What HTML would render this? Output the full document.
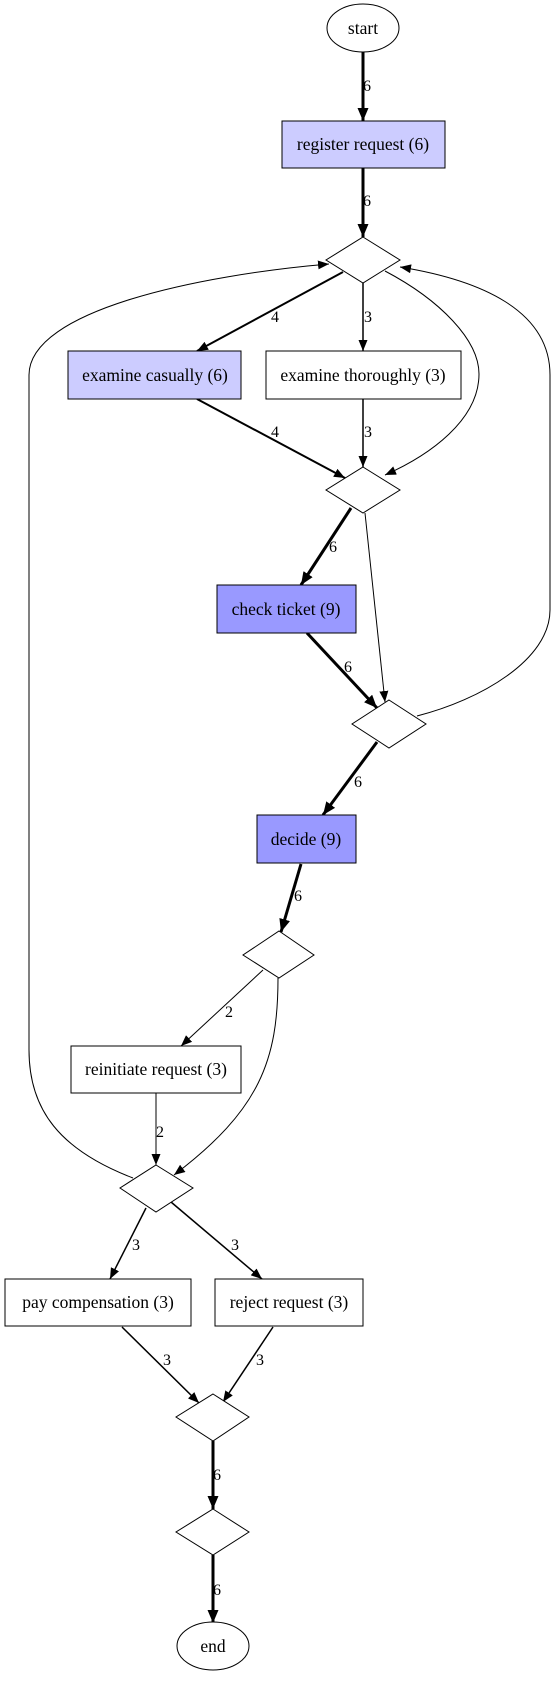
<!DOCTYPE html>
<html><head><meta charset="utf-8"><style>
html,body{margin:0;padding:0;background:#fff;}
svg{display:block;}
text{font-family:"Liberation Serif",serif;fill:#000;}
.n{font-size:17.5px;text-anchor:middle;dominant-baseline:central;}
.e{font-size:16px;}
</style></head><body>
<svg width="551" height="1683" viewBox="0 0 551 1683" xmlns="http://www.w3.org/2000/svg">
<defs>
<marker id="a" markerUnits="userSpaceOnUse" markerWidth="12" markerHeight="9" refX="11" refY="4.5" orient="auto"><path d="M0,0 L11,4.5 L0,9 z" fill="#000"/></marker>
<marker id="b" markerUnits="userSpaceOnUse" markerWidth="14" markerHeight="11" refX="13" refY="5.5" orient="auto"><path d="M0,0 L13,5.5 L0,11 z" fill="#000"/></marker>
</defs>
<g fill="none" stroke="#000">
<line x1="363" y1="52" x2="363" y2="121" stroke-width="3" marker-end="url(#b)"/>
<line x1="363" y1="168" x2="363" y2="237" stroke-width="3" marker-end="url(#b)"/>
<line x1="351" y1="508" x2="301" y2="585" stroke-width="3" marker-end="url(#b)"/>
<line x1="307" y1="633" x2="377" y2="708" stroke-width="3" marker-end="url(#b)"/>
<line x1="377" y1="742" x2="323" y2="815" stroke-width="3" marker-end="url(#b)"/>
<line x1="301" y1="864" x2="281" y2="932" stroke-width="3" marker-end="url(#b)"/>
<line x1="213" y1="1441" x2="213" y2="1509" stroke-width="3" marker-end="url(#b)"/>
<line x1="213" y1="1555" x2="213" y2="1623" stroke-width="3" marker-end="url(#b)"/>
<line x1="343" y1="272" x2="197" y2="351" stroke-width="2" marker-end="url(#a)"/>
<line x1="197" y1="399" x2="345" y2="478" stroke-width="2" marker-end="url(#a)"/>
<line x1="363" y1="283" x2="363" y2="351" stroke-width="1.5" marker-end="url(#a)"/>
<line x1="363" y1="399" x2="363" y2="467" stroke-width="1.5" marker-end="url(#a)"/>
<line x1="146" y1="1208" x2="110" y2="1279" stroke-width="1.5" marker-end="url(#a)"/>
<line x1="171" y1="1202" x2="262" y2="1279" stroke-width="1.5" marker-end="url(#a)"/>
<line x1="122" y1="1327" x2="199" y2="1403" stroke-width="1.5" marker-end="url(#a)"/>
<line x1="273" y1="1327" x2="223" y2="1402" stroke-width="1.5" marker-end="url(#a)"/>
<line x1="365" y1="513" x2="385" y2="702" stroke-width="1" marker-end="url(#a)"/>
<line x1="263" y1="970" x2="181" y2="1046" stroke-width="1" marker-end="url(#a)"/>
<line x1="156" y1="1093" x2="156" y2="1165" stroke-width="1" marker-end="url(#a)"/>
<path d="M385,271 C440,300 479,340 479,374 C479,420 430,455 385,475" stroke-width="1" marker-end="url(#a)"/>
<path d="M278,978 C278,1060 260,1110 174,1175" stroke-width="1" marker-end="url(#a)"/>
<path d="M133,1178 C60,1150 29,1110 29,1050 L29,375 C29,310 200,275 329,264" stroke-width="1" marker-end="url(#a)"/>
<path d="M417,716 C480,700 550,660 550,610 L550,375 C550,310 480,280 400,267" stroke-width="1" marker-end="url(#a)"/>
</g>
<g stroke="#000" stroke-width="1">
<ellipse cx="363" cy="28" rx="36" ry="24" fill="#fff"/>
<rect x="282" y="121" width="163" height="47" fill="#ccccff"/>
<polygon points="363,237 400,260 363,283 326,260" fill="#fff"/>
<rect x="68" y="351" width="173" height="48" fill="#ccccff"/>
<rect x="266" y="351" width="195" height="48" fill="#fff"/>
<polygon points="363,467 400,490 363,513 326,490" fill="#fff"/>
<rect x="217" y="585" width="139" height="48" fill="#9999ff"/>
<polygon points="389,700 426,724 389,748 352,724" fill="#fff"/>
<rect x="257" y="815" width="99" height="48" fill="#9999ff"/>
<polygon points="279,931 314,955 279,978 243,955" fill="#fff"/>
<rect x="71" y="1046" width="170" height="47" fill="#fff"/>
<polygon points="156,1165 193,1188 156,1212 120,1188" fill="#fff"/>
<rect x="5" y="1279" width="186" height="47" fill="#fff"/>
<rect x="215" y="1279" width="148" height="47" fill="#fff"/>
<polygon points="213,1394 249,1417 213,1441 176,1417" fill="#fff"/>
<polygon points="213,1509 249,1532 213,1555 176,1532" fill="#fff"/>
<ellipse cx="213" cy="1646" rx="36" ry="24" fill="#fff"/>
</g>
<text class="n" x="363" y="28">start</text>
<text class="n" x="363" y="144">register request (6)</text>
<text class="n" x="155" y="375">examine casually (6)</text>
<text class="n" x="363" y="375">examine thoroughly (3)</text>
<text class="n" x="286" y="609">check ticket (9)</text>
<text class="n" x="306" y="839">decide (9)</text>
<text class="n" x="156" y="1069">reinitiate request (3)</text>
<text class="n" x="98" y="1302">pay compensation (3)</text>
<text class="n" x="289" y="1302">reject request (3)</text>
<text class="n" x="213" y="1646">end</text>
<g class="e">
<text x="363" y="91">6</text>
<text x="363" y="206">6</text>
<text x="271" y="322">4</text>
<text x="364" y="322">3</text>
<text x="271" y="437">4</text>
<text x="364" y="437">3</text>
<text x="329" y="552">6</text>
<text x="344" y="672">6</text>
<text x="354" y="787">6</text>
<text x="294" y="901">6</text>
<text x="225" y="1017">2</text>
<text x="156" y="1137">2</text>
<text x="132" y="1250">3</text>
<text x="231" y="1250">3</text>
<text x="163" y="1365">3</text>
<text x="256" y="1365">3</text>
<text x="213" y="1480">6</text>
<text x="213" y="1595">6</text>
</g>
</svg>
</body></html>
